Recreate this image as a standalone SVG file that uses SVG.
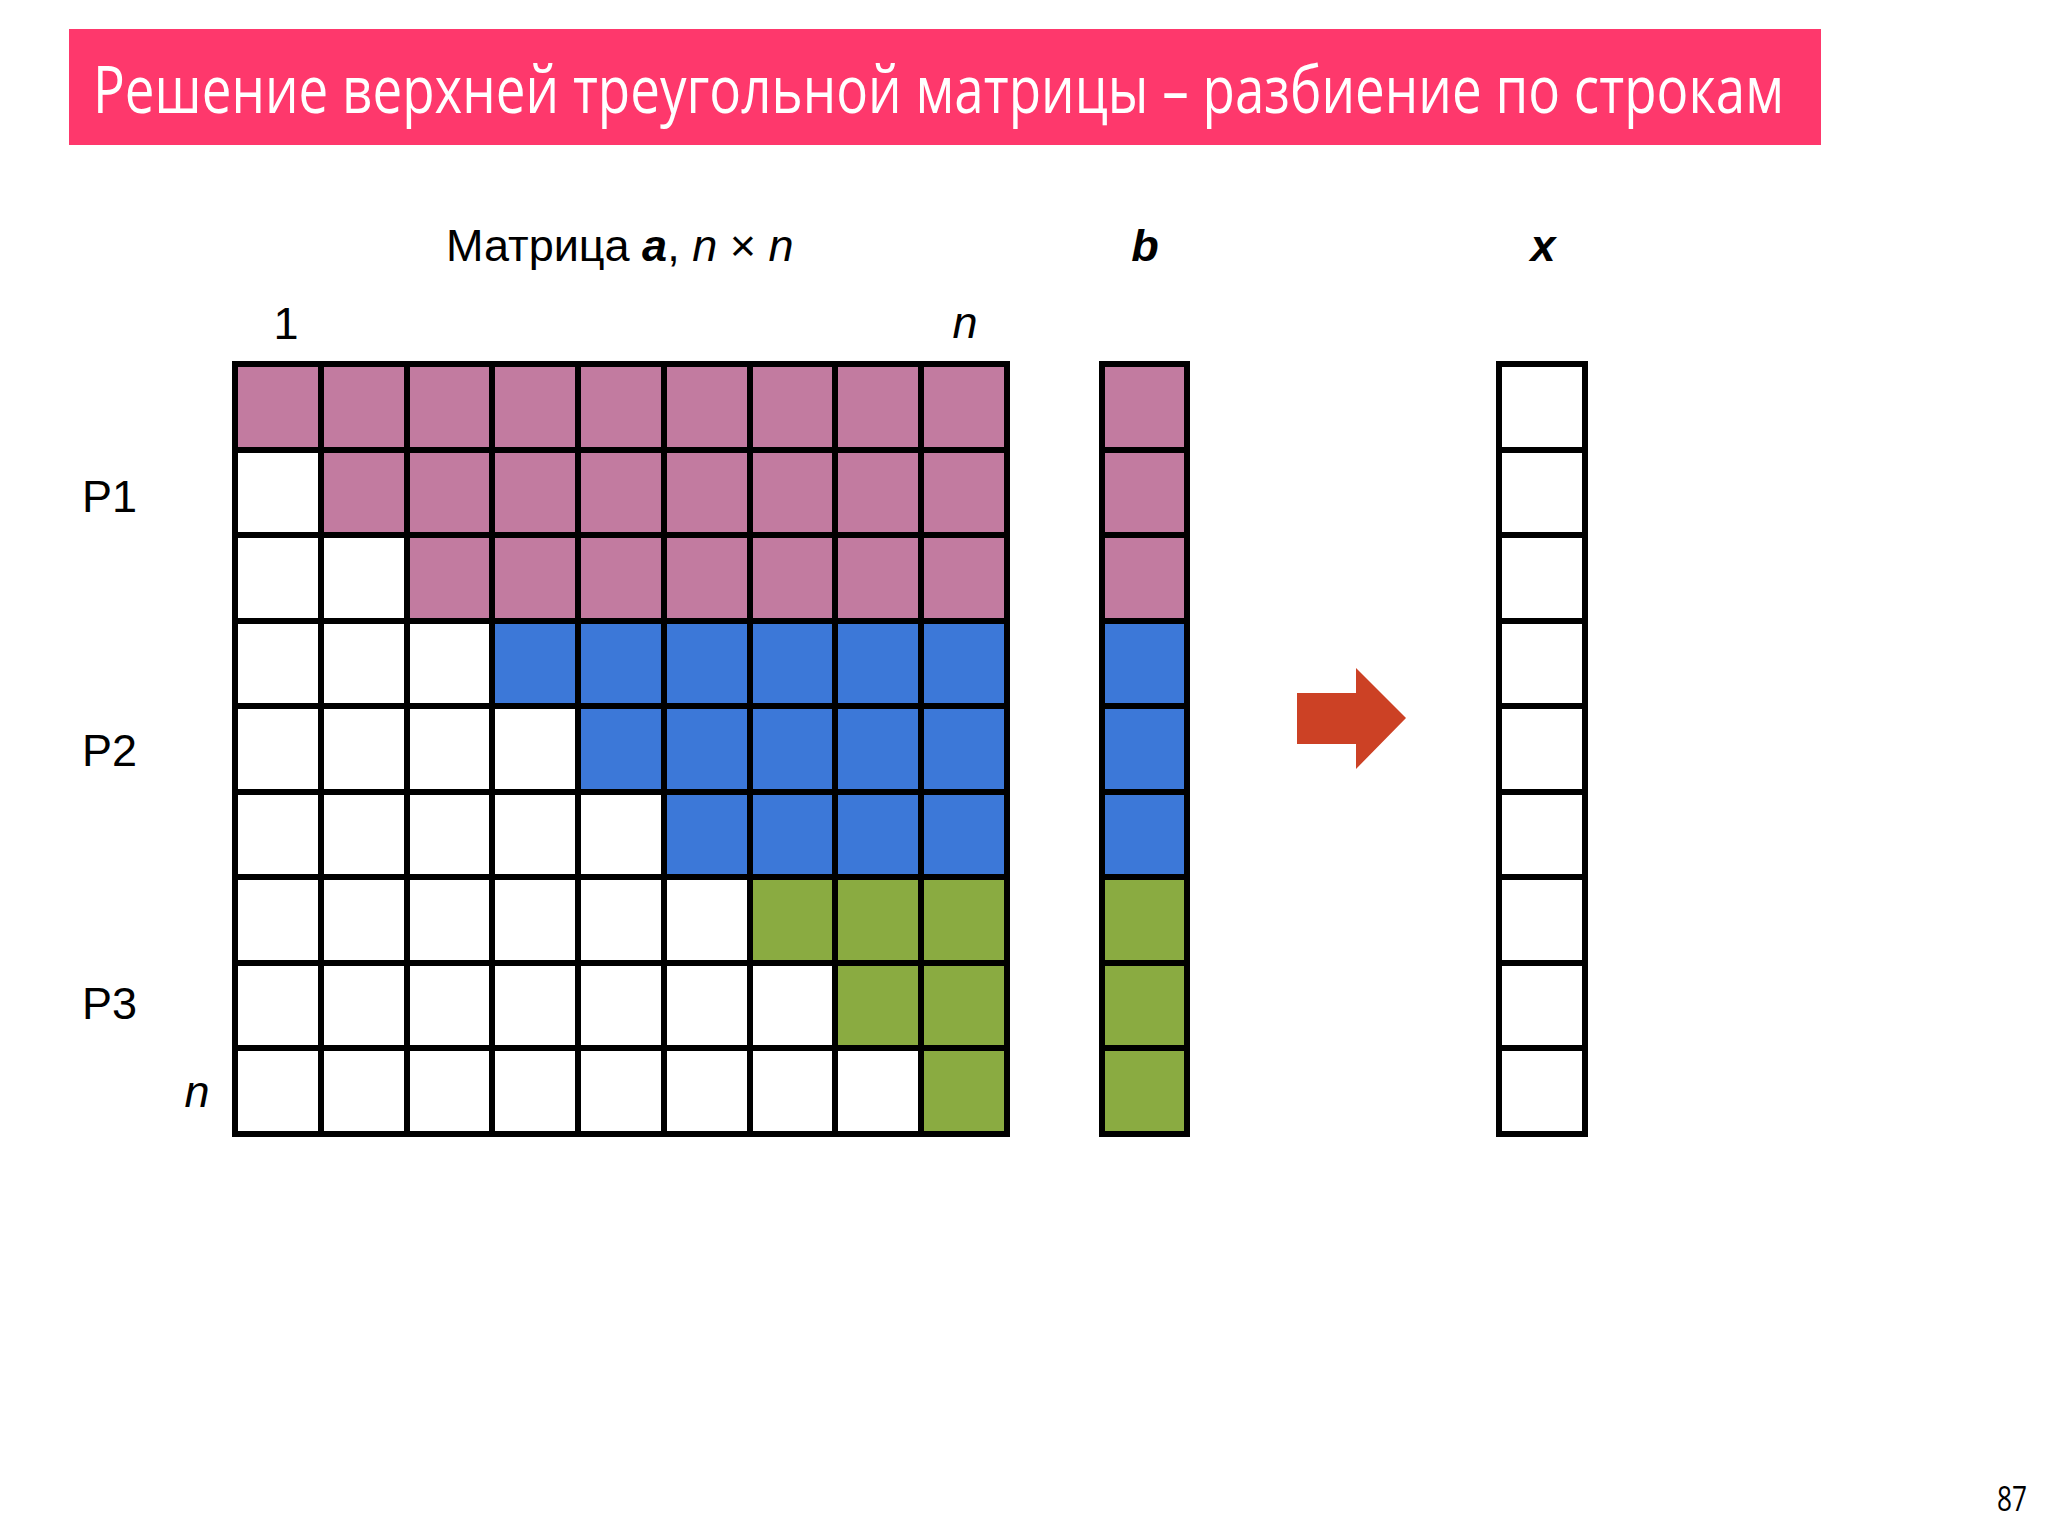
<svg xmlns="http://www.w3.org/2000/svg" width="2048" height="1536" viewBox="0 0 2048 1536">
<style>
.p{fill:#c27ba0}.bl{fill:#3c78d8}.g{fill:#8aab41}.w{fill:#ffffff}
.grid{fill:none;stroke:#000;stroke-width:6;stroke-linecap:square}
.lbl{font-family:"Liberation Sans",Arial,sans-serif;font-size:45px;fill:#000}
.title{font-family:"Open Sans","Noto Sans",sans-serif;font-size:66px;fill:#fff}
</style>
<rect width="2048" height="1536" fill="#fff"/>
<g id="title">
<rect x="69" y="29" width="1752" height="116" fill="#fe386c"/>
<text class="title" x="93" y="113" textLength="1691" lengthAdjust="spacingAndGlyphs">Решение верхней треугольной матрицы – разбиение по строкам</text>
</g>
<g id="labels">
<text class="lbl" x="446" y="261">Матрица <tspan font-weight="bold" font-style="italic">a</tspan>, <tspan font-style="italic">n</tspan> × <tspan font-style="italic">n</tspan></text>
<text class="lbl" x="1145" y="261" text-anchor="middle" font-weight="bold" font-style="italic">b</text>
<text class="lbl" x="1543" y="261" text-anchor="middle" font-weight="bold" font-style="italic">x</text>
<text class="lbl" x="286" y="339" text-anchor="middle">1</text>
<text class="lbl" x="965" y="338" text-anchor="middle" font-style="italic">n</text>
<text class="lbl" x="197" y="1107" text-anchor="middle" font-style="italic">n</text>
<text class="lbl" x="82" y="512">P1</text>
<text class="lbl" x="82" y="766">P2</text>
<text class="lbl" x="82" y="1019">P3</text>
</g>
<g id="matrix-a">
<rect class="p" x="235" y="364" width="772" height="86"/>
<rect class="w" x="235" y="450" width="86" height="85"/><rect class="p" x="321" y="450" width="686" height="85"/>
<rect class="w" x="235" y="535" width="172" height="86"/><rect class="p" x="407" y="535" width="600" height="86"/>
<rect class="w" x="235" y="621" width="257" height="85"/><rect class="bl" x="492" y="621" width="515" height="85"/>
<rect class="w" x="235" y="706" width="343" height="86"/><rect class="bl" x="578" y="706" width="429" height="86"/>
<rect class="w" x="235" y="792" width="429" height="85"/><rect class="bl" x="664" y="792" width="343" height="85"/>
<rect class="w" x="235" y="877" width="515" height="86"/><rect class="g" x="750" y="877" width="257" height="86"/>
<rect class="w" x="235" y="963" width="600" height="85"/><rect class="g" x="835" y="963" width="172" height="85"/>
<rect class="w" x="235" y="1048" width="686" height="86"/><rect class="g" x="921" y="1048" width="86" height="86"/>
<path class="grid" d="M235 364V1134M321 364V1134M407 364V1134M492 364V1134M578 364V1134M664 364V1134M750 364V1134M835 364V1134M921 364V1134M1007 364V1134M235 364H1007M235 450H1007M235 535H1007M235 621H1007M235 706H1007M235 792H1007M235 877H1007M235 963H1007M235 1048H1007M235 1134H1007"/>
</g>
<g id="vector-b">
<rect class="p" x="1102" y="364" width="85" height="257"/>
<rect class="bl" x="1102" y="621" width="85" height="256"/>
<rect class="g" x="1102" y="877" width="85" height="257"/>
<path class="grid" d="M1102 364V1134M1187 364V1134M1102 364H1187M1102 450H1187M1102 535H1187M1102 621H1187M1102 706H1187M1102 792H1187M1102 877H1187M1102 963H1187M1102 1048H1187M1102 1134H1187"/>
</g>
<g id="vector-x">
<rect class="w" x="1499" y="364" width="86" height="770"/>
<path class="grid" d="M1499 364V1134M1585 364V1134M1499 364H1585M1499 450H1585M1499 535H1585M1499 621H1585M1499 706H1585M1499 792H1585M1499 877H1585M1499 963H1585M1499 1048H1585M1499 1134H1585"/>
</g>
<g id="connectors">
<polygon points="1297,693 1356,693 1356,668 1406,718 1356,769 1356,744 1297,744" fill="#cc4125"/>
</g>
<text x="2027" y="1511" text-anchor="end" font-family="'Open Sans','Noto Sans',sans-serif" font-size="34" fill="#000" textLength="30" lengthAdjust="spacingAndGlyphs">87</text>
</svg>
